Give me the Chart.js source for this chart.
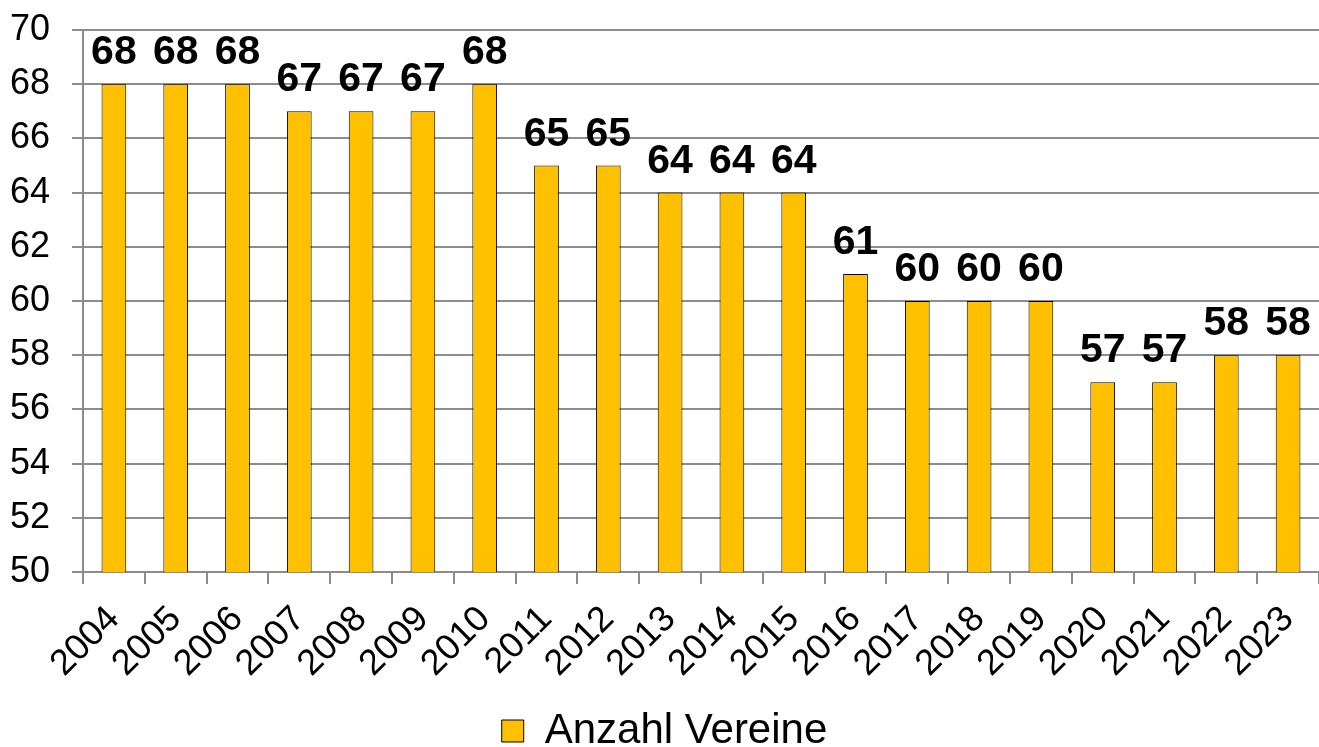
<!DOCTYPE html>
<html>
<head>
<meta charset="utf-8">
<script src="https://cdn.jsdelivr.net/npm/chart.js@4"></script>
<style>
html,body{margin:0;padding:0;background:#fff;}
#wrap{width:1319px;height:747px;}
</style>
</head>
<body>
<div id="wrap"><canvas id="c" width="1319" height="747"></canvas></div>
<script>
const categories = ["2004","2005","2006","2007","2008","2009","2010","2011","2012","2013","2014","2015","2016","2017","2018","2019","2020","2021","2022","2023"];
const values = [68,68,68,67,67,67,68,65,65,64,64,64,61,60,60,60,57,57,58,58];
const seriesName = "Anzahl Vereine";
const yTicks = [50,52,54,56,58,60,62,64,66,68,70];

const FONT = "'Liberation Sans', Arial, sans-serif";

const valueLabels = {
  id: 'valueLabels',
  afterDatasetsDraw(chart) {
    const ctx = chart.ctx;
    ctx.save();
    ctx.font = "bold 41px " + FONT;
    ctx.fillStyle = "#000";
    ctx.textAlign = "center";
    ctx.textBaseline = "alphabetic";
    const meta = chart.getDatasetMeta(0);
    meta.data.forEach((el, i) => {
      ctx.fillText(String(values[i]), el.x, el.y - 20);
    });
    ctx.restore();
  }
};

new Chart(document.getElementById('c'), {
  type: 'bar',
  data: {
    labels: categories,
    datasets: [{
      label: seriesName,
      data: values,
      backgroundColor: '#FFC000',
      borderColor: '#000000',
      borderWidth: 1,
      barPercentage: 0.4,
      categoryPercentage: 1.0
    }]
  },
  options: {
    responsive: false,
    animation: false,
    layout: { padding: { top: 0, right: 0, left: 10, bottom: -15 } },
    plugins: {
      legend: {
        position: 'bottom',
        labels: {
          font: { family: FONT, size: 42 },
          color: '#000',
          boxWidth: 22,
          boxHeight: 22,
          padding: 0
        }
      },
      tooltip: { enabled: false }
    },
    scales: {
      x: {
        offset: true,
        afterFit(axis) { axis.height = 138; axis.paddingLeft = 0; axis.paddingRight = 0; },
        grid: { display: true, drawOnChartArea: false, drawTicks: true, tickLength: 12, color: '#8c8c8c', lineWidth: 2 },
        border: { display: true, color: '#8c8c8c', width: 2 },
        ticks: { font: { family: FONT, size: 36 }, color: '#000', minRotation: 45, maxRotation: 45, autoSkip: false, padding: 14 }
      },
      y: {
        min: 50, max: 70,
        afterBuildTicks(axis) { axis.ticks = yTicks.map(v => ({ value: v })); },
        afterFit(axis) { axis.width = 73; axis.paddingTop = 30; axis.paddingBottom = 0; },
        grid: { color: '#8c8c8c', lineWidth: 2, tickLength: 11 },
        border: { display: true, color: '#8c8c8c', width: 2 },
        ticks: { font: { family: FONT, size: 36 }, color: '#000', padding: 22 }
      }
    }
  },
  plugins: [valueLabels]
});
</script>
</body>
</html>
